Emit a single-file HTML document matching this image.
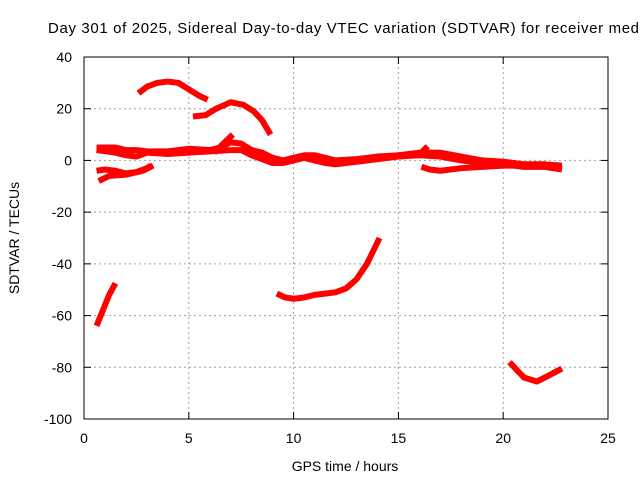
<!DOCTYPE html>
<html><head><meta charset="utf-8"><style>
body{margin:0;background:#fff}
svg{display:block;font-family:"Liberation Sans",sans-serif}
</style></head><body>
<svg id="chart" width="640" height="480" viewBox="0 0 640 480">
<rect width="640" height="480" fill="#fff"/>
<text x="48" y="33" font-size="15" fill="#000" textLength="600" lengthAdjust="spacing">Day 301 of 2025, Sidereal Day-to-day VTEC variation (SDTVAR) for receiver medo</text>
<g id="grid"></g>
<g id="series"></g>
<rect x="84" y="57" width="524" height="362" fill="none" stroke="#000" stroke-width="1"/>
<g id="ticks"></g>
<text x="345" y="471" font-size="14" text-anchor="middle">GPS time / hours</text>
<text transform="translate(19,238) rotate(-90)" font-size="14" text-anchor="middle">SDTVAR / TECUs</text>
</svg>
<script>
const xTicks=[0,5,10,15,20,25];
const yTicks=[40,20,0,-20,-40,-60,-80,-100];
const arcHigh=[[2.6,26],[3.0,28.5],[3.5,30],[4.0,30.5],[4.5,30],[5.0,27.5],[5.5,25],[5.9,23.5]];
const arcMid=[[5.2,17],[5.8,17.5],[6.3,20],[7.0,22.5],[7.6,21.5],[8.1,19],[8.5,15.5],[8.9,10]];
const bandUpper=[[0.6,5],[1.5,5],[2.0,4],[2.5,4],[3,3.5],[4,3.5],[5,4.5],[6,4],[6.5,5],[7,7],[7.5,6.5],[8,4],[8.5,3],[9,1],[9.5,0],[10,1],[10.5,2],[11,2],[11.5,1],[12,0],[13,0.5],[14,1.5],[15,2],[16,3],[17,3],[18,1.5],[19,0],[20,-0.5],[21,-1.5],[22,-1.5],[22.8,-2]];
const bandLower=[[0.6,4],[1.5,3],[2.0,2],[2.5,1.5],[3,3],[4,2.5],[5,3],[6,3.5],[7,4],[7.5,4],[8,2],[8.5,0.5],[9,-1],[9.5,-1],[10,0],[10.5,1],[11,0],[11.5,-1],[12,-1.5],[13,-0.5],[14,0.5],[15,1.5],[16,2],[17,1.5],[18,0],[19,-1],[20,-1.5],[21,-2.5],[22,-2.5],[22.8,-3.5]];
const earlyLow1=[[0.6,-4],[1,-3.5],[1.5,-4],[2,-5],[2.5,-4.5],[3,-3],[3.2,-2]];
const earlyLow2=[[0.7,-8],[1.2,-6],[2,-5.5],[2.8,-4],[3.3,-2]];
const lateLow=[[16.1,-2.5],[16.5,-3.5],[17,-4],[18,-3],[19,-2.5],[20,-2],[21,-2],[22,-2],[22.8,-3]];
const spike1=[[6.2,3],[7.1,10]];
const spike2=[[15.9,1.5],[16.4,5.5]];
const steepLeft=[[0.6,-64],[0.9,-58],[1.2,-52],[1.5,-47.5]];
const midCurve=[[9.2,-51.5],[9.6,-53],[10,-53.5],[10.5,-53],[11,-52],[11.5,-51.5],[12,-51],[12.5,-49.5],[13,-46],[13.5,-40],[14.1,-30]];
const lateDip=[[20.3,-78],[20.7,-81.5],[21.0,-84],[21.6,-85.5],[22.1,-83.5],[22.8,-80.5]];
const seriesList=[arcHigh,arcMid,bandUpper,bandLower,earlyLow1,earlyLow2,lateLow,spike1,spike2,steepLeft,midCurve,lateDip];
const X=h=>84+h*524/25, Y=v=>57+(40-v)*362/140;
const NS="http://www.w3.org/2000/svg";
const g=document.getElementById('grid'), t=document.getElementById('ticks'), s=document.getElementById('series');
function mk(tag,attrs,parent){const e=document.createElementNS(NS,tag);for(const k in attrs)e.setAttribute(k,attrs[k]);parent.appendChild(e);return e;}
xTicks.forEach(v=>{const x=X(v);
 if(v>0&&v<25){const l=mk('line',{x1:x,x2:x,y1:57,y2:419,stroke:'#a0a0a0','stroke-dasharray':'2,3'},g);
 
 }
 mk('line',{x1:x,x2:x,y1:419,y2:412,stroke:'#000'},t);mk('line',{x1:x,x2:x,y1:57,y2:64,stroke:'#000'},t);
 const tx=mk('text',{x:x,y:443,'font-size':14,'text-anchor':'middle'},t);tx.textContent=v;
 
 });
yTicks.forEach(v=>{const y=Y(v);
 if(v<40&&v>-100){const l=mk('line',{x1:84,x2:608,y1:y,y2:y,stroke:'#a0a0a0','stroke-dasharray':'2,3'},g);
 
 }
 mk('line',{x1:84,x2:91,y1:y,y2:y,stroke:'#000'},t);mk('line',{x1:608,x2:601,y1:y,y2:y,stroke:'#000'},t);
 const tx=mk('text',{x:72,y:y+5,'font-size':14,'text-anchor':'end'},t);tx.textContent=v;
 
 });
seriesList.forEach(ser=>{
 const p=mk('polyline',{points:ser.map(d=>X(d[0])+','+Y(d[1])).join(' '),fill:'none',stroke:'#ff0000','stroke-width':6,'stroke-linejoin':'round'},s);
 
 });
</script>
</body></html>
